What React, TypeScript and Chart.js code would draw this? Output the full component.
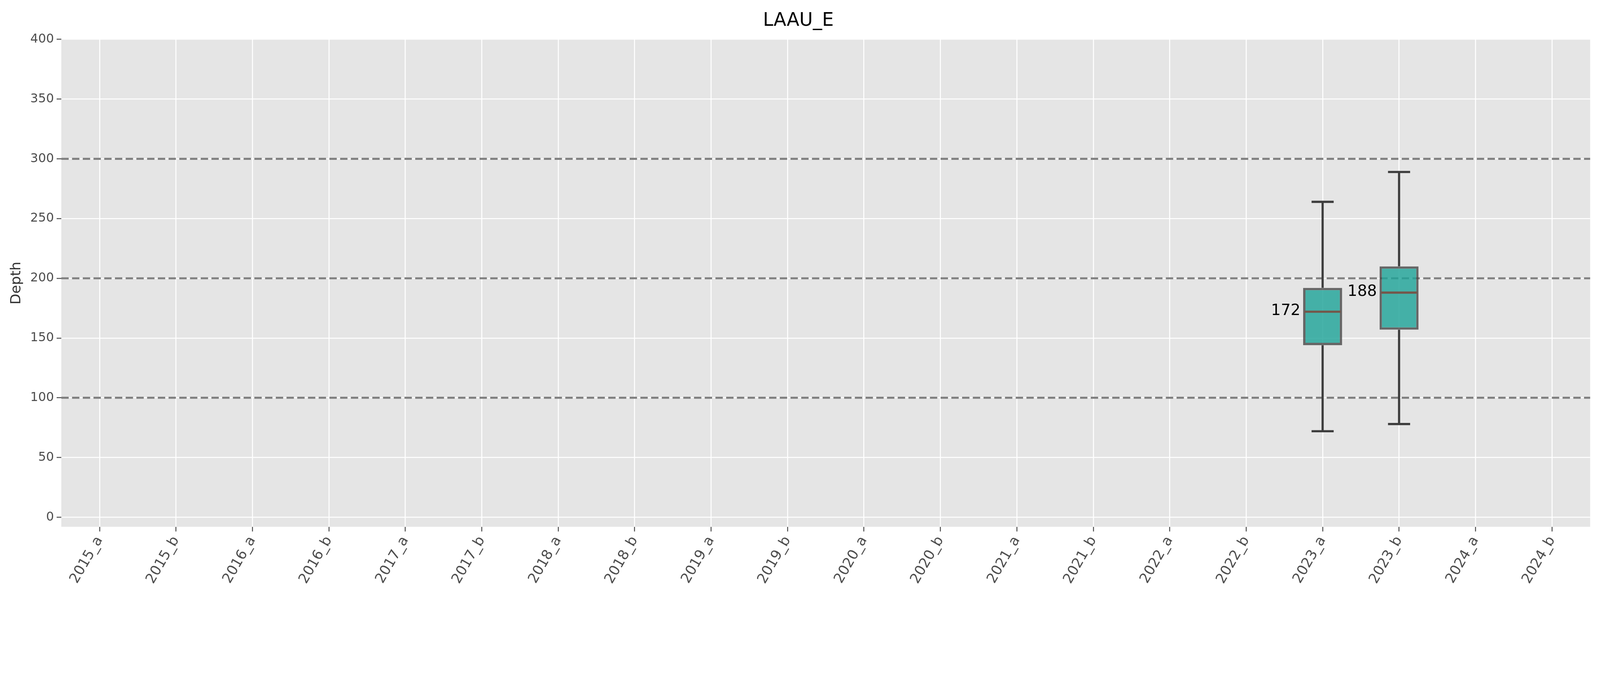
import Chart from "chart.js/auto";
import { useEffect, useRef } from "react";

const categories = [
  "2015_a", "2015_b", "2016_a", "2016_b", "2017_a", "2017_b", "2018_a", "2018_b", "2019_a", "2019_b",
  "2020_a", "2020_b", "2021_a", "2021_b", "2022_a", "2022_b", "2023_a", "2023_b", "2024_a", "2024_b",
];
const whiskerLow: (number | null)[] = [null, null, null, null, null, null, null, null, null, null, null, null, null, null, null, null, 72, 78, null, null];
const q1: (number | null)[] = [null, null, null, null, null, null, null, null, null, null, null, null, null, null, null, null, 144, 157, null, null];
const median: (number | null)[] = [null, null, null, null, null, null, null, null, null, null, null, null, null, null, null, null, 172, 188, null, null];
const q3: (number | null)[] = [null, null, null, null, null, null, null, null, null, null, null, null, null, null, null, null, 192, 210, null, null];
const whiskerHigh: (number | null)[] = [null, null, null, null, null, null, null, null, null, null, null, null, null, null, null, null, 264, 289, null, null];
const yTicks = [0, 50, 100, 150, 200, 250, 300, 350, 400];
const refLines = [100, 200, 300];

const FONT = "'DejaVu Sans', sans-serif";

function makePlugin(s: number) {
  return {
    id: "boxPlugin",
    beforeDraw(chart: any) {
      const { ctx, chartArea: a } = chart;
      ctx.save();
      ctx.fillStyle = "#E5E5E5";
      ctx.fillRect(a.left, a.top, a.right - a.left, a.bottom - a.top);
      ctx.restore();
    },
    beforeDatasetsDraw(chart: any) {
      const { ctx, chartArea: a, scales } = chart;
      const y = scales.y;
      ctx.save();
      ctx.strokeStyle = "#808080";
      ctx.lineWidth = 6 * s;
      ctx.setLineDash([22 * s, 10 * s]);
      refLines.forEach((v) => {
        const py = y.getPixelForValue(v);
        ctx.beginPath();
        ctx.moveTo(a.left, py);
        ctx.lineTo(a.right, py);
        ctx.stroke();
      });
      ctx.restore();
    },
    afterDatasetsDraw(chart: any) {
      const { ctx, scales } = chart;
      const x = scales.x;
      const y = scales.y;
      const meta = chart.getDatasetMeta(0);
      ctx.save();
      categories.forEach((_, i) => {
        if (median[i] == null) return;
        const cx = x.getPixelForValue(i);
        const half = meta.data[i].width / 2;
        const cap = 33 * s;
        ctx.strokeStyle = "#3d3d3d";
        ctx.lineWidth = 6.5 * s;
        ctx.beginPath();
        ctx.moveTo(cx, y.getPixelForValue(q3[i]!));
        ctx.lineTo(cx, y.getPixelForValue(whiskerHigh[i]!));
        ctx.moveTo(cx - cap, y.getPixelForValue(whiskerHigh[i]!));
        ctx.lineTo(cx + cap, y.getPixelForValue(whiskerHigh[i]!));
        ctx.moveTo(cx, y.getPixelForValue(q1[i]!));
        ctx.lineTo(cx, y.getPixelForValue(whiskerLow[i]!));
        ctx.moveTo(cx - cap, y.getPixelForValue(whiskerLow[i]!));
        ctx.lineTo(cx + cap, y.getPixelForValue(whiskerLow[i]!));
        ctx.stroke();
        const my = y.getPixelForValue(median[i]!);
        ctx.strokeStyle = "#74574a";
        ctx.beginPath();
        ctx.moveTo(cx - half + 4 * s, my);
        ctx.lineTo(cx + half - 4 * s, my);
        ctx.stroke();
        ctx.fillStyle = "#000";
        ctx.font = `${46 * s}px ${FONT}`;
        ctx.textAlign = "right";
        ctx.textBaseline = "middle";
        ctx.fillText(String(median[i]), cx - half - 8 * s, my - 2 * s);
      });
      ctx.restore();
    },
  };
}

export default function App() {
  const ref = useRef<HTMLCanvasElement | null>(null);
  const w = Math.max(300, window.innerWidth - 16);
  const h = Math.round((w * 1757) / 4756);
  const s = w / 4756;

  useEffect(() => {
    if (!ref.current) return;
    const chart = new Chart(ref.current, {
      type: "bar",
      data: {
        labels: categories,
        datasets: [
          {
            data: categories.map((_, i) => (q1[i] == null ? null : [q1[i], q3[i]])) as any,
            backgroundColor: "rgba(32,164,152,0.82)",
            borderColor: "rgba(70,70,70,0.8)",
            borderWidth: 7 * s,
            borderSkipped: false,
            barPercentage: 0.51,
            categoryPercentage: 1,
          },
        ],
      },
      options: {
        animation: false,
        responsive: true,
        maintainAspectRatio: false,
        layout: { padding: { left: 10 * s, right: 20 * s, top: 10 * s, bottom: 10 * s } },
        plugins: {
          legend: { display: false },
          tooltip: { enabled: false },
          title: {
            display: true,
            text: "LAAU_E",
            color: "#000",
            font: { family: FONT, size: 55 * s, weight: "normal" },
            padding: { top: 10 * s, bottom: 22 * s },
          },
        },
        scales: {
          x: {
            offset: true,
            grid: { color: "#ffffff", lineWidth: 3 * s, tickColor: "#555", tickLength: 14 * s, offset: false },
            border: { display: false },
            ticks: {
              color: "#4d4d4d",
              font: { family: FONT, size: 42 * s },
              maxRotation: 60,
              minRotation: 60,
              padding: 6 * s,
            },
          },
          y: {
            min: -8,
            max: 400,
            afterBuildTicks: (sc: any) => {
              sc.ticks = yTicks.map((v) => ({ value: v }));
            },
            grid: { color: "#ffffff", lineWidth: 3 * s, tickColor: "#555", tickLength: 14 * s },
            border: { display: false },
            title: {
              display: true,
              text: "Depth",
              color: "#333",
              font: { family: FONT, size: 42 * s },
              padding: { bottom: 8 * s },
            },
            ticks: { color: "#4d4d4d", font: { family: FONT, size: 37 * s }, padding: 8 * s },
          },
        },
      },
      plugins: [makePlugin(s)],
    });
    return () => chart.destroy();
  }, []);

  return (
    <div style={{ position: "relative", width: w, height: h, background: "#fff" }}>
      <canvas ref={ref} />
    </div>
  );
}
